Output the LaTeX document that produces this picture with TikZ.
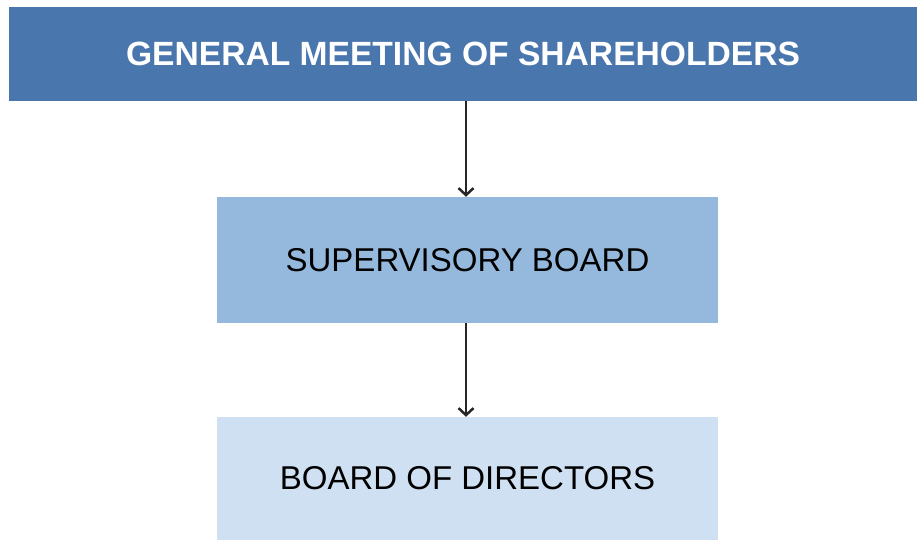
\documentclass[tikz,border=0pt]{standalone}
\usepackage{fontspec}
\setmainfont{Liberation Sans}
\usetikzlibrary{arrows.meta}

\definecolor{topblue}{RGB}{74,118,174}
\definecolor{midblue}{RGB}{149,185,221}
\definecolor{lowblue}{RGB}{207,224,242}

\begin{document}
\begin{tikzpicture}[x=1pt,y=-1pt,
  box/.style={rectangle,inner sep=0pt,font=\fontsize{33}{40}\selectfont},
  arr/.style={draw=black!85,line width=2.5pt,-{Straight Barb[length=7pt,width=15pt]}}]
\useasboundingbox (0,0) rectangle (917,540);

\node[box,fill=topblue,text=white,font=\fontsize{33.6}{40}\selectfont\bfseries,
  minimum width=908pt,minimum height=94pt] (gm) at (463,54) {GENERAL MEETING OF SHAREHOLDERS};
\node[box,fill=midblue,minimum width=501pt,minimum height=126pt] (sb) at (467.5,260) {SUPERVISORY BOARD};
\node[box,fill=lowblue,minimum width=501pt,minimum height=123pt] (bd) at (467.5,478.5) {BOARD OF DIRECTORS};

\draw[arr] ([xshift=-1.5pt]sb.north |- gm.south) -- ([xshift=-1.5pt]sb.north);
\draw[arr] ([xshift=-1.5pt]sb.south) -- ([xshift=-1.5pt]bd.north);
\end{tikzpicture}
\end{document}
